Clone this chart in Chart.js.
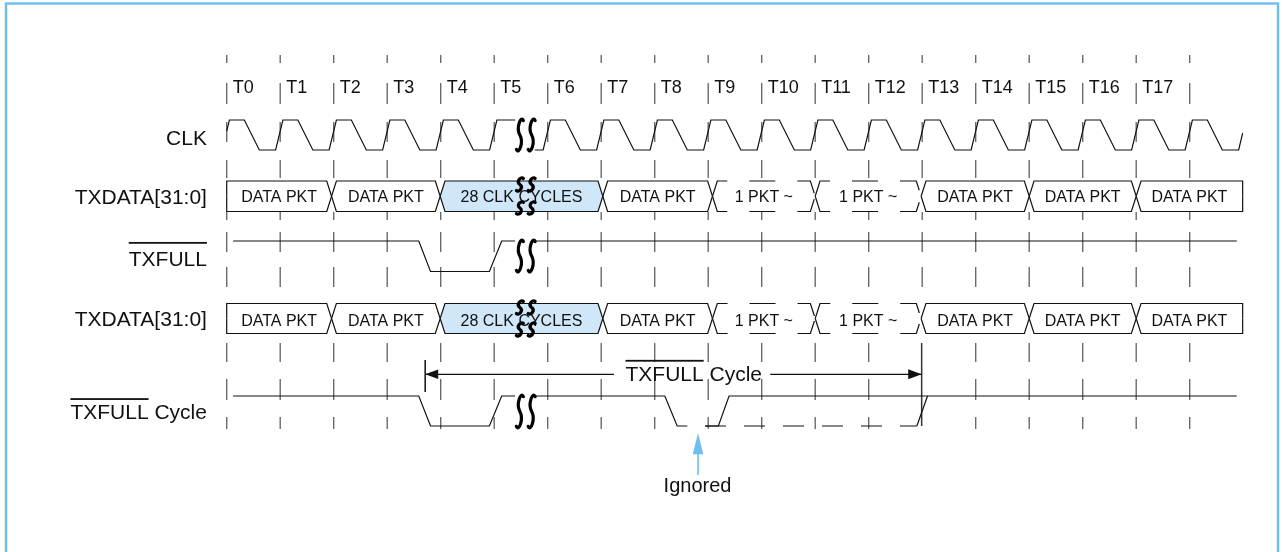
<!DOCTYPE html>
<html>
<head>
<meta charset="utf-8">
<title>TXFULL timing</title>
<script src="https://cdn.jsdelivr.net/npm/chart.js@4.4.1/dist/chart.umd.min.js"></script>
<style>
  html, body { margin: 0; padding: 0; background: #ffffff; }
  canvas { display: block; }
</style>
</head>
<body>
<canvas id="timing" width="1283" height="552"></canvas>
<script>
// cycle labels along the top, one tick column per clock edge
const cycleLabels = ['T0', 'T1', 'T2', 'T3', 'T4', 'T5', 'T6', 'T7', 'T8', 'T9',
                     'T10', 'T11', 'T12', 'T13', 'T14', 'T15', 'T16', 'T17'];
const tickTimes = [0, 1, 2, 3, 4, 5, 6, 7, 8, 9, 10, 11, 12, 13, 14, 15, 16, 17, 18];

const rowLabels = ['CLK', 'TXDATA[31:0]', 'TXFULL', 'TXDATA[31:0]', 'TXFULL Cycle'];
const overlined = ['', '', 'TXFULL', '', 'TXFULL'];

// CLK: one pulse per cycle (times relative to the cycle edge, 1 = high)
const clkCycles = [0, 1, 2, 3, 4, 5, 6, 7, 8, 9, 10, 11, 12, 13, 14, 15, 16, 17, 18];
const clkShapeT = [-0.085, 0.05, 0.33, 0.61, 0.915];
const clkShapeV = [0, 1, 1, 0, 0];
const clkStart = [0, 0.63];
const clkEnd = [18.99, 0.56];
const clkBreak = [[5.39, 1], [5.76, 0]];

// the "28 CLK CYCLES" time break
const breakMarks = [5.48, 5.7];

// TXDATA[31:0] bus (both rows are the same)
const busBounds = [0, 1.96, 3.99, 7.03, 9.08, 11.0, 12.98, 15.0, 17.0, 18.99];
const busLabels = ['DATA PKT', 'DATA PKT', '28 CLK CYCLES', 'DATA PKT', '1 PKT ~', '1 PKT ~',
                   'DATA PKT', 'DATA PKT', 'DATA PKT'];
const busKinds = ['data', 'data', 'wait', 'data', 'maybe', 'maybe', 'data', 'data', 'data'];

// TXFULL (active low)
const txfullT = [0.12, 3.59, 3.81, 4.91, 5.14, 5.39, null, 5.76, 18.88];
const txfullV = [1, 1, 0, 0, 1, 1, null, 1, 1];

// TXFULL Cycle
const cycT = [0.12, 3.59, 3.81, 4.91, 5.14, 5.39, null, 5.76, 8.19, 8.42, 8.61, null, 8.94, 9.19, 9.39, 18.88];
const cycV = [1, 1, 0, 0, 1, 1, null, 1, 1, 0, 0, null, 0, 0, 1, 1];
const cycDashT = [8.94, 12.9];
const cycDashV = [0, 0];
const cycRiseT = [12.9, 13.1];
const cycRiseV = [0, 1];

// span arrow and ignored glitch
const spanFrom = 3.71;
const spanTo = 12.99;
const spanLabel = 'TXFULL Cycle';
const spanLabelAt = 8.73;
const ignoredAt = 8.81;
const ignoredLabel = 'Ignored';

// ---- layout (diagram units, y grows downward) ----
const rows = [
  { hi: 120,   lo: 150,   labelBase: 144.5, overGap: 5.8, breaks: [[117, 153]] },
  { hi: 181,   lo: 211.5, labelBase: 203.5, overGap: 5.8, textBase: 201.7, breaks: [[177, 192], [201, 215]] },
  { hi: 241,   lo: 271.5, labelBase: 265.5, overGap: 8.5, breaks: [[238, 274]] },
  { hi: 303.5, lo: 333.5, labelBase: 326,   overGap: 5.8, textBase: 326, breaks: [[300, 315], [322, 337]] },
  { hi: 396,   lo: 426,   labelBase: 419,   overGap: 5.8, breaks: [[393, 430]] }
];
const tickDash = [[55, 63], [83, 104], [122, 142], [160, 178], [212, 220], [232, 252],
                  [267, 287], [343, 362], [379, 400], [417, 429]];
const spanY = 374.3;
const FONT = "'Liberation Sans', Arial, Helvetica, sans-serif";
const INK = '#111111';
const BLUE = '#6dbdf3';

const lv = (r, v) => (v === null ? null : rows[r].lo + v * (rows[r].hi - rows[r].lo));
const mid = r => (rows[r].hi + rows[r].lo) / 2;

function wave(r, ts, vs) {
  return ts.map((t, i) => ({ x: t === null ? ts[i - 1] : t, y: lv(r, vs[i]) }));
}

function lineDs(pts, extra) {
  return Object.assign({
    data: pts, showLine: true, pointRadius: 0, pointHoverRadius: 0,
    borderColor: INK, borderWidth: 1.2, fill: false, tension: 0, order: 3
  }, extra || {});
}

const datasets = [];

// dashed tick columns
const tickPts = [];
tickTimes.forEach(t => {
  tickDash.forEach(([y0, y1]) => {
    if (Math.abs(t - spanTo) < 0.1 && y0 > 335) return;
    tickPts.push({ x: t, y: y0 }, { x: t, y: y1 }, { x: t, y: null });
  });
});
datasets.push(lineDs(tickPts, { borderColor: '#6a6a6a', borderWidth: 1.4, order: 9 }));

// clock
const clkPts = [{ x: clkStart[0], y: lv(0, clkStart[1]) }];
let broke = false;
clkCycles.forEach(c => {
  clkShapeT.forEach((dt, i) => {
    const t = c + dt;
    if (t <= clkStart[0] || t >= clkEnd[0]) return;
    if (t > clkBreak[0][0] && t < clkBreak[1][0]) {
      if (!broke) {
        clkPts.push({ x: clkBreak[0][0], y: lv(0, clkBreak[0][1]) },
                    { x: clkBreak[0][0], y: null },
                    { x: clkBreak[1][0], y: lv(0, clkBreak[1][1]) });
        broke = true;
      }
      return;
    }
    clkPts.push({ x: t, y: lv(0, clkShapeV[i]) });
  });
});
clkPts.push({ x: clkEnd[0], y: lv(0, clkEnd[1]) });
datasets.push(lineDs(clkPts));

// bus boxes, rows 1 and 3
const W = 0.09;
[1, 3].forEach(r => {
  busLabels.forEach((lab, i) => {
    const a = busBounds[i], b = busBounds[i + 1];
    const first = i === 0, last = i === busLabels.length - 1;
    const edge = y => [
      { x: a, y: mid(r) }, { x: first ? a : a + W, y: y },
      { x: last ? b : b - W, y: y }, { x: b, y: mid(r) }
    ];
    const kind = busKinds[i];
    if (kind === 'maybe') {
      datasets.push(lineDs(edge(rows[r].lo), { borderDash: [26, 22], order: 5 }));
      datasets.push(lineDs(edge(rows[r].hi), { borderDash: [26, 22], order: 5 }));
    } else {
      datasets.push(lineDs(edge(rows[r].lo), { order: 5 }));
      datasets.push(lineDs(edge(rows[r].hi), {
        order: 5, fill: '-1',
        backgroundColor: kind === 'wait' ? '#cfe7f9' : '#ffffff'
      }));
    }
  });
});

// TXFULL and TXFULL Cycle
datasets.push(lineDs(wave(2, txfullT, txfullV)));
datasets.push(lineDs(wave(4, cycT, cycV)));
datasets.push(lineDs(wave(4, cycDashT, cycDashV), { borderDash: [21, 18] }));
datasets.push(lineDs(wave(4, cycRiseT, cycRiseV)));

// span arrow shaft and end bars
const gapHalf = 1.49;
datasets.push(lineDs([{ x: spanFrom, y: spanY }, { x: spanLabelAt - gapHalf, y: spanY }]));
datasets.push(lineDs([{ x: spanLabelAt + gapHalf - 0.06, y: spanY }, { x: spanTo, y: spanY }]));
datasets.push(lineDs([{ x: spanFrom, y: 360 }, { x: spanFrom, y: 392 }], { borderWidth: 1.5 }));
datasets.push(lineDs([{ x: spanTo, y: 343 }, { x: spanTo, y: 426 }], { borderWidth: 1.5, borderColor: '#333' }));

function squiggle(ctx, x, y0, y1) {
  const h = y1 - y0;
  ctx.beginPath();
  ctx.moveTo(x + 3.5, y0 + 0.1 * h);
  ctx.bezierCurveTo(x + 1, y0 - 0.06 * h, x - 4, y0 + 0.3 * h, x, y0 + 0.5 * h);
  ctx.bezierCurveTo(x + 4, y0 + 0.7 * h, x - 1, y1 + 0.06 * h, x - 3.5, y1 - 0.1 * h);
  ctx.stroke();
}

function arrowHead(ctx, x, y, dx, dy, len, half) {
  ctx.beginPath();
  ctx.moveTo(x, y);
  ctx.lineTo(x - dx * len - dy * half, y - dy * len - dx * half);
  ctx.lineTo(x - dx * len + dy * half, y - dy * len + dx * half);
  ctx.closePath();
  ctx.fill();
}

function overText(ctx, text, over, xLeft, base, size, gap) {
  ctx.fillText(text, xLeft, base);
  if (over) {
    const w = ctx.measureText(over).width;
    ctx.fillRect(xLeft, base - size * 0.716 - gap, w, 1.8);
  }
}

const diagramPlugin = {
  id: 'diagram',
  afterDatasetsDraw(chart) {
    const ctx = chart.ctx;
    const X = v => chart.scales.x.getPixelForValue(v);
    const Y = v => chart.scales.y.getPixelForValue(v);
    ctx.save();
    ctx.fillStyle = INK;
    ctx.textBaseline = 'alphabetic';

    // cycle labels
    ctx.font = '18px ' + FONT;
    ctx.textAlign = 'left';
    cycleLabels.forEach((lab, i) => ctx.fillText(lab, X(tickTimes[i]) + 6, Y(93)));

    // row labels, right aligned
    ctx.font = '21px ' + FONT;
    rowLabels.forEach((lab, r) => {
      const w = ctx.measureText(lab).width;
      overText(ctx, lab, overlined[r], X(-0.37) - w, Y(rows[r].labelBase), 21, rows[r].overGap);
    });

    // bus texts
    ctx.font = '16px ' + FONT;
    ctx.textAlign = 'center';
    [1, 3].forEach(r => {
      busLabels.forEach((lab, i) => {
        ctx.fillText(lab, X((busBounds[i] + busBounds[i + 1]) / 2), Y(rows[r].textBase));
      });
    });

    // time break marks
    ctx.strokeStyle = '#000';
    ctx.lineWidth = 3.2;
    ctx.lineCap = 'round';
    rows.forEach(row => {
      row.breaks.forEach(([y0, y1]) => {
        breakMarks.forEach(t => squiggle(ctx, X(t), Y(y0), Y(y1)));
      });
    });

    // span arrow heads and label
    ctx.fillStyle = INK;
    arrowHead(ctx, X(spanFrom), Y(spanY), -1, 0, 13, 4.7);
    arrowHead(ctx, X(spanTo), Y(spanY), 1, 0, 13.5, 5);
    ctx.font = '21px ' + FONT;
    ctx.textAlign = 'left';
    const sw = ctx.measureText(spanLabel).width;
    overText(ctx, spanLabel, 'TXFULL', X(spanLabelAt) - sw / 2, Y(380.7), 21, 5.8);

    // ignored pointer
    ctx.fillStyle = BLUE;
    ctx.strokeStyle = BLUE;
    ctx.lineWidth = 1.6;
    ctx.lineCap = 'butt';
    ctx.beginPath();
    ctx.moveTo(X(ignoredAt), Y(452));
    ctx.lineTo(X(ignoredAt), Y(475));
    ctx.stroke();
    arrowHead(ctx, X(ignoredAt), Y(433.3), 0, -1, 21, 5.3);
    ctx.fillStyle = INK;
    ctx.font = '20px ' + FONT;
    ctx.textAlign = 'center';
    ctx.fillText(ignoredLabel, X(ignoredAt) - 0.5, Y(491.5));

    // frame
    ctx.strokeStyle = BLUE;
    ctx.lineWidth = 2.4;
    ctx.strokeRect(6, 3.5, 1272, 580);
    ctx.restore();
  }
};

new Chart(document.getElementById('timing'), {
  type: 'scatter',
  data: { datasets: datasets },
  options: {
    responsive: false,
    devicePixelRatio: 1,
    animation: false,
    events: [],
    layout: { padding: 0 },
    plugins: { legend: { display: false }, tooltip: { enabled: false } },
    scales: {
      x: { type: 'linear', display: false, min: -4.2374, max: 19.7439 },
      y: { type: 'linear', display: false, reverse: true, min: 0, max: 552 }
    }
  },
  plugins: [diagramPlugin]
});
</script>
</body>
</html>
